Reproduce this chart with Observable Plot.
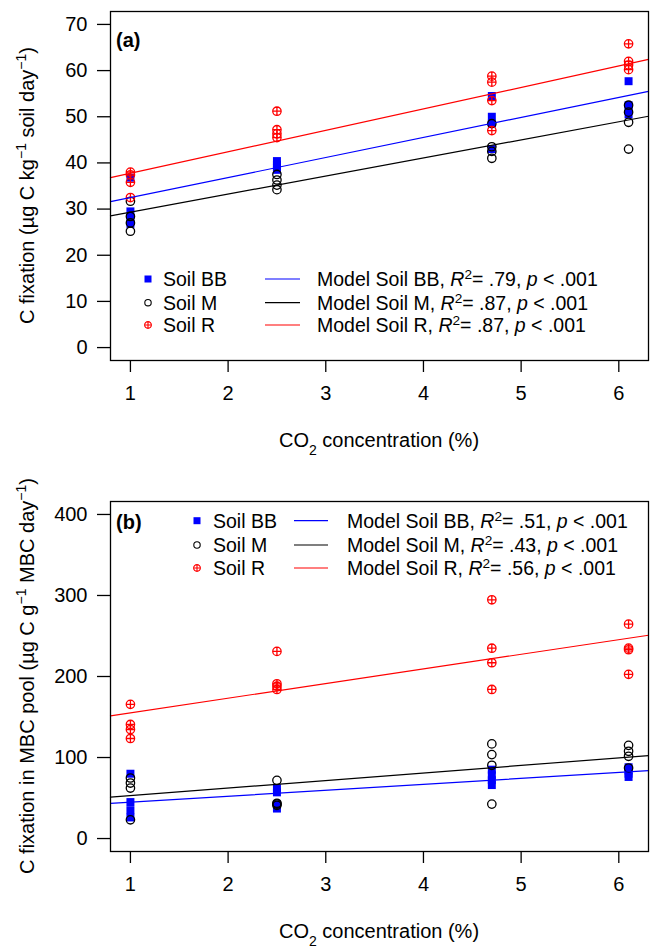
<!DOCTYPE html>
<html><head><meta charset="utf-8">
<script src="https://cdn.jsdelivr.net/npm/d3@7"></script>
<script src="https://cdn.jsdelivr.net/npm/@observablehq/plot@0.6"></script>
<style>body{margin:0;background:#fff} #chart svg{display:block}</style>
</head><body><div id="chart"></div>
<script>
// CO2 levels (%)
const co2 = [1, 2.5, 4.7, 6.1];
const xTicks = [1, 2, 3, 4, 5, 6];
const soils = ["Soil BB", "Soil M", "Soil R"];

// Panel (a): C fixation (µg C kg-1 soil day-1), replicates per CO2 level
const fixBB = [[36.8, 29.5, 28.0, 26.8], [40.4, 39.6, 39.0, 38.5], [54.5, 50.0, 48.5, 43.0], [57.7, 52.5, 51.5, 50.5]];
const fixM  = [[31.7, 28.4, 27.0, 25.2], [37.5, 36.3, 35.2, 34.2], [48.5, 43.5, 42.5, 41.0], [52.5, 51.0, 48.8, 43.0]];
const fixR  = [[38.0, 37.4, 35.8, 32.5], [51.2, 47.2, 46.3, 45.5], [58.8, 57.5, 53.5, 47.0], [65.8, 62.0, 61.2, 60.2]];
const yTicksA = [0, 10, 20, 30, 40, 50, 60, 70];
const modelIntA = [28.15, 25.4, 33.1];
const modelSlopeA = [4.34, 3.92, 4.65];
const r2A = [".79", ".87", ".87"];

// Panel (b): C fixation in MBC pool (µg C g-1 MBC day-1)
const mbcBB = [[80.0, 45.0, 35.0, 26.0], [62.0, 57.0, 42.0, 37.0], [85.0, 78.0, 72.0, 66.0], [88.0, 84.0, 80.0, 76.0]];
const mbcM  = [[74.7, 68.5, 62.3, 23.1], [71.8, 43.5, 42.5, 41.0], [116.8, 103.6, 90.4, 42.5], [115.0, 107.7, 101.5, 87.0]];
const mbcR  = [[165.6, 140.8, 134.6, 123.5], [231.0, 191.0, 188.0, 184.0], [294.7, 234.9, 217.0, 184.0], [264.6, 235.0, 233.0, 202.7]];
const yTicksB = [0, 100, 200, 300, 400];
const modelIntB = [37.45, 43.6, 137.1];
const modelSlopeB = [7.35, 9.33, 18.06];
const r2B = [".51", ".43", ".56"];
const pText = ".001";

const colors = ["#0000FF", "#000000", "#FF0000"];
const FONT = "'Liberation Sans', Arial, Helvetica, sans-serif";

const circlePlus = {
  draw(ctx, size) {
    const r = Math.sqrt(size / Math.PI);
    ctx.moveTo(r, 0); ctx.arc(0, 0, r, 0, 2 * Math.PI);
    ctx.moveTo(-r, 0); ctx.lineTo(r, 0);
    ctx.moveTo(0, -r); ctx.lineTo(0, r);
  }
};

function tidy(arr) {
  const out = [];
  arr.forEach((reps, i) => reps.forEach(v => out.push({x: co2[i], y: v})));
  return out;
}

function rich(g, x, y, parts, opts = {}) {
  const t = g.append("text").attr("x", x).attr("y", y)
    .attr("font-family", FONT).attr("font-size", opts.size || 20)
    .attr("fill", "black").attr("text-anchor", opts.anchor || "start");
  if (opts.weight) t.attr("font-weight", opts.weight);
  if (opts.transform) t.attr("transform", opts.transform);
  for (const p of parts) {
    const s = t.append("tspan").text(p.t);
    if (p.i) s.attr("font-style", "italic");
    if (p.sup) s.attr("baseline-shift", "super").attr("font-size", "70%");
    if (p.sub) s.attr("baseline-shift", "sub").attr("font-size", "70%");
  }
  return t;
}

function panel(cfg) {
  const xDomain = [0.796, 6.304];
  const lineRows = i => xDomain.map(x => ({x, y: cfg.ints[i] + cfg.slopes[i] * x}));
  const svg = Plot.plot({
    width: 654, height: cfg.height,
    marginLeft: 110, marginRight: 6, marginTop: cfg.mt, marginBottom: cfg.mb,
    style: {fontFamily: FONT, fontSize: "20px", background: "white", color: "black"},
    x: {domain: xDomain},
    y: {domain: cfg.yDomain},
    marks: [
      Plot.dot(tidy(cfg.bb), {x: "x", y: "y", symbol: "square", fill: colors[0], r: 4.5}),
      Plot.dot(tidy(cfg.m), {x: "x", y: "y", symbol: "circle", stroke: colors[1], fill: "none", r: 4.2, strokeWidth: 1.3}),
      Plot.dot(tidy(cfg.r), {x: "x", y: "y", symbol: circlePlus, stroke: colors[2], fill: "none", r: 4.2, strokeWidth: 1.3}),
      ...[0, 1, 2].map(i => Plot.line(lineRows(i), {x: "x", y: "y", stroke: colors[i], strokeWidth: 1.2})),
      Plot.frame({stroke: "black", strokeWidth: 1.3}),
      Plot.axisY({ticks: cfg.yTicks, tickSize: 13, tickPadding: 10, fontSize: 20, label: null, strokeWidth: 1.3}),
      Plot.axisX({ticks: xTicks, tickFormat: "d", tickSize: 12, tickPadding: 13, fontSize: 20, label: null, strokeWidth: 1.3})
    ]
  });
  const g = d3.select(svg);
  // panel tag
  rich(g, 116, cfg.tagY, [{t: cfg.tag}], {weight: "bold"});
  // y-axis title
  const cy = (cfg.mt + (cfg.height - cfg.mb)) / 2;
  rich(g, 0, 0, cfg.ylabel, {anchor: "middle", transform: `translate(34,${cy}) rotate(-90)`});
  // x-axis title
  rich(g, 379, cfg.xlabY, [{t: "CO"}, {t: "2", sub: true}, {t: " concentration (%)"}], {anchor: "middle"});
  // legend
  const L = cfg.leg;
  soils.forEach((s, i) => {
    const y = L.rows[i];
    if (i === 0) g.append("rect").attr("x", L.sx - 3.5).attr("y", y - 3.5).attr("width", 7).attr("height", 7).attr("fill", colors[0]);
    if (i === 1) g.append("circle").attr("cx", L.sx).attr("cy", y).attr("r", 3.2).attr("fill", "none").attr("stroke", "black").attr("stroke-width", 1.1);
    if (i === 2) g.append("path").attr("d", d3.symbol(circlePlus, Math.PI * 3.4 * 3.4)()).attr("transform", `translate(${L.sx},${y})`).attr("fill", "none").attr("stroke", colors[2]).attr("stroke-width", 1.1);
    rich(g, L.tx, y + 7, [{t: s}], {size: 19.5});
    g.append("line").attr("x1", L.l1).attr("x2", L.l2).attr("y1", y).attr("y2", y).attr("stroke", colors[i]).attr("stroke-width", 1.2);
    rich(g, L.mx, y + 7, [{t: "Model " + s + ", "}, {t: "R", i: true}, {t: "2", sup: true}, {t: "= " + cfg.r2[i] + ", "}, {t: "p", i: true}, {t: " < " + pText}], {size: 19.5});
  });
  return svg;
}

const root = document.getElementById("chart");
root.appendChild(panel({
  bb: fixBB, m: fixM, r: fixR, ints: modelIntA, slopes: modelSlopeA, r2: r2A,
  yDomain: [-2.8, 72.8], yTicks: yTicksA, height: 475, mt: 11, mb: 115,
  tag: "(a)", tagY: 47, xlabY: 447,
  ylabel: [{t: "C fixation (µg C kg"}, {t: "−1", sup: true}, {t: " soil day"}, {t: "−1", sup: true}, {t: ")"}],
  leg: {rows: [279, 302.7, 325], sx: 148, tx: 163, l1: 265, l2: 300, mx: 317}
}));
root.appendChild(panel({
  bb: mbcBB, m: mbcM, r: mbcR, ints: modelIntB, slopes: modelSlopeB, r2: r2B,
  yDomain: [-16, 416], yTicks: yTicksB, height: 475, mt: 26, mb: 99,
  tag: "(b)", tagY: 54, xlabY: 463,
  ylabel: [{t: "C fixation in MBC pool (µg C g"}, {t: "−1", sup: true}, {t: " MBC day"}, {t: "−1", sup: true}, {t: ")"}],
  leg: {rows: [45.7, 70, 93], sx: 197, tx: 213, l1: 294, l2: 328, mx: 347}
}));
</script></body></html>
